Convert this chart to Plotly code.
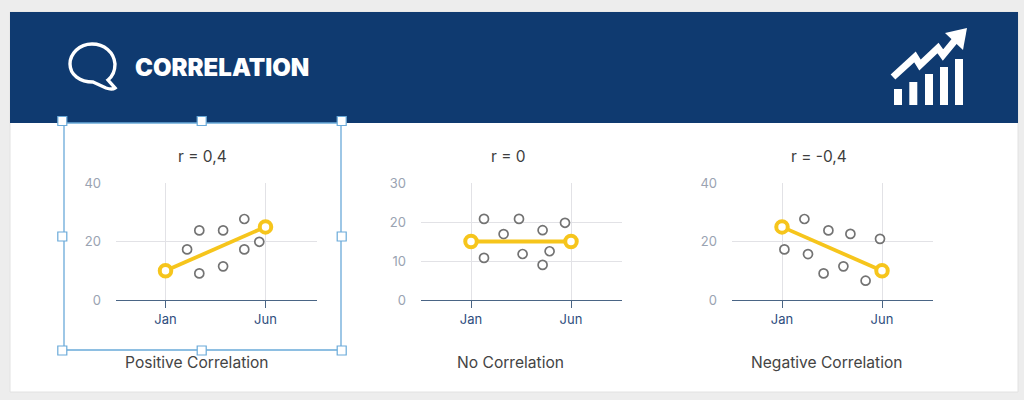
import plotly.graph_objects as go

W, H = 1024, 400
FONT = "Inter"

# ---- data ----
trend_months = [0, 5]
month_ticks = [0, 5]
month_labels = ["Jan", "Jun"]

pos_x = [1.08, 1.69, 1.69, 2.88, 2.88, 3.94, 3.94, 4.69]
pos_y = [17.3, 23.8, 9.1, 23.8, 11.5, 27.7, 17.3, 19.9]
pos_trend = [10, 25]
pos_ticks = [0, 20, 40]

none_x = [0.65, 0.65, 1.63, 2.40, 2.58, 3.58, 3.58, 3.93, 4.70]
none_y = [20.8, 10.8, 16.9, 20.8, 11.8, 17.9, 9.0, 12.5, 19.8]
none_trend = [15, 15]
none_ticks = [0, 10, 20, 30]

neg_x = [0.12, 1.12, 1.30, 2.08, 2.32, 3.07, 3.42, 4.18, 4.90]
neg_y = [17.3, 27.7, 15.7, 9.1, 23.8, 11.5, 22.6, 6.6, 20.9]
neg_trend = [25, 10]
neg_ticks = [0, 20, 40]

r_labels = ["r = 0,4", "r = 0", "r = -0,4"]
names = ["Positive Correlation", "No Correlation", "Negative Correlation"]
heading = "CORRELATION"


def px(x):
    return x / W


def py(y):
    return 1 - y / H


fig = go.Figure()
panels = [
    (116, 317, 165.5, pos_x, pos_y, pos_trend, pos_ticks),
    (421, 622, 471.0, none_x, none_y, none_trend, none_ticks),
    (732, 933, 782.0, neg_x, neg_y, neg_trend, neg_ticks),
]
PER_MONTH = 20.0
layout = {}
for i, (left, right, jan, xs, ys, trend, ticks) in enumerate(panels, start=1):
    suffix = "" if i == 1 else str(i)
    xa, ya = f"x{suffix}", f"y{suffix}"
    fig.add_trace(go.Scatter(
        x=xs, y=ys, mode="markers", xaxis=xa, yaxis=ya, cliponaxis=False,
        marker=dict(size=9, color="white", line=dict(color="#737373", width=1.7)),
    ))
    fig.add_trace(go.Scatter(
        x=trend_months, y=trend, mode="lines+markers", xaxis=xa, yaxis=ya, cliponaxis=False,
        line=dict(color="#f6c51c", width=3.8),
        marker=dict(size=11.5, color="white", line=dict(color="#f6c51c", width=4)),
    ))
    layout[f"xaxis{suffix}"] = dict(
        domain=[px(left), px(right)], anchor=ya, automargin=False,
        range=[(left - jan) / PER_MONTH, (right - jan) / PER_MONTH],
        tickmode="array", tickvals=month_ticks, ticktext=month_labels,
        ticks="outside", ticklen=7, tickwidth=1, tickcolor="#4a6585",
        tickfont=dict(family=FONT, size=13, color="#2f4e7e"),
        showgrid=True, gridcolor="#e2e2e6", gridwidth=1,
        showline=True, linecolor="#4a6585", linewidth=1.2, zeroline=False,
    )
    layout[f"yaxis{suffix}"] = dict(
        domain=[py(300), py(183)], anchor=xa, automargin=False,
        range=[0, max(ticks)],
        tickmode="array", tickvals=ticks,
        ticks="", tickfont=dict(family=FONT, size=13, color="#9aa3b2"),
        ticklabelstandoff=14,
        showgrid=True, gridcolor="#e2e2e6", gridwidth=1,
        showline=False, zeroline=False,
    )

shapes = []


def rect(x0, y0, x1, y1, fill, line=None, width=1, layer="below"):
    shapes.append(dict(
        type="rect", xref="paper", yref="paper", layer=layer,
        x0=px(x0), x1=px(x1), y0=py(y0), y1=py(y1), fillcolor=fill,
        line=dict(color=line or fill, width=width if line else 0),
    ))


def path(points, fill=None, line=None, width=0, layer="above"):
    shapes.append(dict(
        type="path", xref="paper", yref="paper", layer=layer, path=points,
        fillcolor=fill or "rgba(0,0,0,0)",
        line=dict(color=line or "rgba(0,0,0,0)", width=width),
    ))


def p(x, y):
    return f"{px(x):.5f},{py(y):.5f}"


NAVY = "#0f3a70"
BLUE = "#6aaad9"
rect(10, 12, 1018, 392, "#ffffff", "#e2e2e2", 1)
rect(10, 12, 1018, 123, NAVY)

# selection frame and handles
rect(64, 123, 341, 350, "rgba(0,0,0,0)", BLUE, 1.3, layer="above")
for hx in (62.3, 201.7, 341.7):
    for hy in (121, 236.5, 350.5):
        if hx == 201.7 and hy == 236.5:
            continue
        rect(hx - 4.5, hy - 4.5, hx + 4.5, hy + 4.5, "#ffffff", BLUE, 1.2, layer="above")

# speech bubble icon
bubble = (
    f"M{p(93, 82)} L{p(106, 88)} Q{p(112, 90)} {p(115, 88)} L{p(108, 80)} "
    f"C{p(113, 76)} {p(115, 70)} {p(115, 64)} "
    f"C{p(114, 52)} {p(104, 44)} {p(92, 44)} "
    f"C{p(79, 44)} {p(70, 54)} {p(70, 64)} "
    f"C{p(70, 75)} {p(80, 82)} {p(93, 82)} Z"
)
path(bubble, line="#ffffff", width=3.4)

# rising chart icon
for bx, top in ((894, 89), (909.3, 82), (925, 74), (940, 67), (955, 59)):
    rect(bx, top, bx + 8, 105, "#ffffff", layer="above")
path(
    f"M{p(893, 77)} L{p(915, 57)} L{p(920, 65)} L{p(938, 48)} L{p(943, 55)} L{p(957, 38)}",
    line="#ffffff", width=7,
)
path(f"M{p(967, 28)} L{p(945, 33)} L{p(963, 50)} Z", fill="#ffffff")

annotations = [dict(
    text=heading, xref="paper", yref="paper", x=px(133), y=py(67.5),
    xanchor="left", yanchor="middle", showarrow=False,
    font=dict(family=FONT, size=24, color="#ffffff", weight=900),
)]
for text, cx in zip(r_labels, (202, 508, 819)):
    annotations.append(dict(
        text=text, xref="paper", yref="paper", x=px(cx), y=py(156),
        xanchor="center", yanchor="middle", showarrow=False,
        font=dict(family=FONT, size=15.5, color="#3d3d3d"),
    ))
for text, cx in zip(names, (197, 510, 827)):
    annotations.append(dict(
        text=text, xref="paper", yref="paper", x=px(cx), y=py(362),
        xanchor="center", yanchor="middle", showarrow=False,
        font=dict(family=FONT, size=15.6, color="#444444"),
    ))

fig.update_layout(
    width=W, height=H, autosize=False,
    margin=dict(l=0, r=0, t=0, b=0, pad=0, autoexpand=False),
    paper_bgcolor="#ededed", plot_bgcolor="rgba(0,0,0,0)",
    showlegend=False, shapes=shapes, annotations=annotations,
    **layout,
)
fig.write_html(
    "out.html",
    config={"displayModeBar": False},
    default_width="1024px",
    default_height="400px",
    post_script=(
        "document.documentElement.style.cssText='margin:0;padding:0;overflow:hidden';"
        "document.body.style.cssText='margin:0;padding:0;overflow:hidden;background:#ededed';"
    ),
)
